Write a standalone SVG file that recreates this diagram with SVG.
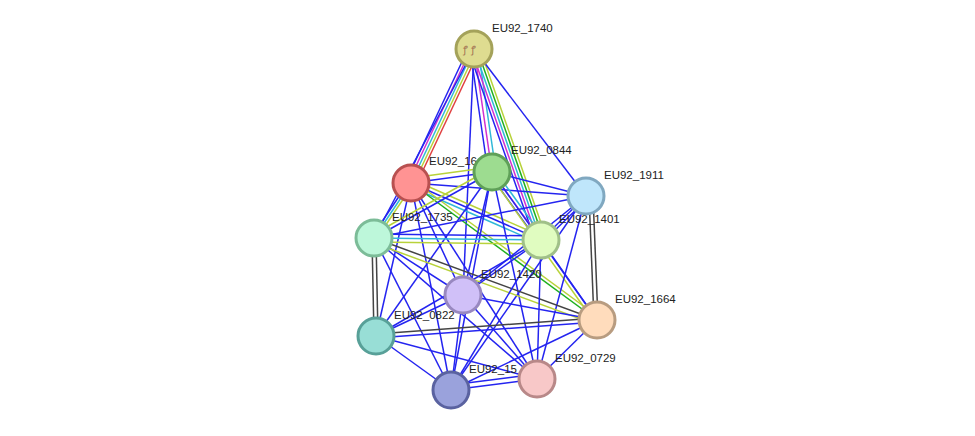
<svg xmlns="http://www.w3.org/2000/svg" width="975" height="436" viewBox="0 0 975 436">
<style>
.e line{stroke-width:1.5;fill:none}
.b{stroke:#2424f0}.y{stroke:#b8d23a}.c{stroke:#30b8d8}.m{stroke:#d030d0}.g{stroke:#20b020}.k{stroke:#444}.r{stroke:#e04040}
.n circle{stroke-width:3}
text{font-family:"Liberation Sans",Arial,sans-serif;font-size:11.5px;fill:#222}
</style>
<rect width="975" height="436" fill="#fff"/>
<g id="connectors" class="e">
<!-- 1740 multi -->
<g transform="translate(-6,0)"><line class="b" x1="474" y1="49" x2="411" y2="183"/></g>
<g transform="translate(-3,0)"><line class="m" x1="474" y1="49" x2="411" y2="183"/></g>
<line class="c" x1="474" y1="49" x2="411" y2="183"/>
<g transform="translate(3,0)"><line class="y" x1="474" y1="49" x2="411" y2="183"/></g>
<g transform="translate(6,0)"><line class="r" x1="474" y1="49" x2="411" y2="183"/></g>
<g transform="translate(-4,0)"><line class="b" x1="474" y1="49" x2="492" y2="172"/></g>
<line class="m" x1="474" y1="49" x2="492" y2="172"/>
<g transform="translate(4,0)"><line class="c" x1="474" y1="49" x2="492" y2="172"/></g>
<g transform="translate(-6,0)"><line class="b" x1="474" y1="49" x2="541" y2="240"/></g>
<g transform="translate(-3,0)"><line class="m" x1="474" y1="49" x2="541" y2="240"/></g>
<line class="c" x1="474" y1="49" x2="541" y2="240"/>
<g transform="translate(3,0)"><line class="g" x1="474" y1="49" x2="541" y2="240"/></g>
<g transform="translate(6,0)"><line class="y" x1="474" y1="49" x2="541" y2="240"/></g>
<line class="b" x1="474" y1="49" x2="374" y2="238"/>
<line class="b" x1="474" y1="49" x2="586" y2="196"/>
<line class="b" x1="474" y1="49" x2="463" y2="295"/>
<!-- 16 -->
<line class="b" x1="411" y1="183" x2="492" y2="172"/>
<g transform="translate(0,-5)"><line class="y" x1="411" y1="183" x2="492" y2="172"/></g>
<line class="b" x1="411" y1="183" x2="586" y2="196"/>
<g transform="translate(-3,0)"><line class="b" x1="411" y1="183" x2="374" y2="238"/></g>
<line class="c" x1="411" y1="183" x2="374" y2="238"/>
<g transform="translate(3,0)"><line class="y" x1="411" y1="183" x2="374" y2="238"/></g>
<g transform="translate(0,-4)"><line class="y" x1="411" y1="183" x2="541" y2="240"/></g>
<line class="b" x1="411" y1="183" x2="541" y2="240"/>
<g transform="translate(0,4)"><line class="c" x1="411" y1="183" x2="541" y2="240"/></g>
<line class="g" x1="411" y1="183" x2="597" y2="320"/>
<g transform="translate(0,-4)"><line class="y" x1="411" y1="183" x2="597" y2="320"/></g>
<line class="b" x1="411" y1="183" x2="463" y2="295"/>
<line class="b" x1="411" y1="183" x2="376" y2="336"/>
<line class="b" x1="411" y1="183" x2="537" y2="379"/>
<line class="b" x1="411" y1="183" x2="451" y2="390"/>
<!-- 0844 -->
<line class="b" x1="492" y1="172" x2="374" y2="238"/>
<g transform="translate(0,-4)"><line class="y" x1="492" y1="172" x2="374" y2="238"/></g>
<line class="b" x1="492" y1="172" x2="586" y2="196"/>
<g transform="translate(-4,0)"><line class="b" x1="492" y1="172" x2="541" y2="240"/></g>
<line class="m" x1="492" y1="172" x2="541" y2="240"/>
<g transform="translate(4,0)"><line class="c" x1="492" y1="172" x2="541" y2="240"/></g>
<line class="b" x1="492" y1="172" x2="463" y2="295"/>
<line class="b" x1="492" y1="172" x2="376" y2="336"/>
<line class="b" x1="492" y1="172" x2="597" y2="320"/>
<g transform="translate(-4,0)"><line class="y" x1="492" y1="172" x2="597" y2="320"/></g>
<line class="b" x1="492" y1="172" x2="537" y2="379"/>
<line class="b" x1="492" y1="172" x2="451" y2="390"/>
<!-- 1911 -->
<line class="b" x1="586" y1="196" x2="374" y2="238"/>
<line class="b" x1="586" y1="196" x2="541" y2="240"/>
<g transform="translate(4,0)"><line class="b" x1="586" y1="196" x2="541" y2="240"/></g>
<line class="b" x1="586" y1="196" x2="463" y2="295"/>
<line class="k" x1="589" y1="196" x2="594" y2="320"/>
<line class="k" x1="593" y1="196" x2="598" y2="320"/>
<line class="b" x1="586" y1="196" x2="537" y2="379"/>
<line class="b" x1="586" y1="196" x2="451" y2="390"/>
<!-- 1735 -->
<g transform="translate(0,-4)"><line class="b" x1="374" y1="238" x2="541" y2="240"/></g>
<line class="c" x1="374" y1="238" x2="541" y2="240"/>
<g transform="translate(0,4)"><line class="y" x1="374" y1="238" x2="541" y2="240"/></g>
<line class="b" x1="374" y1="238" x2="463" y2="295"/>
<line class="k" x1="372" y1="238" x2="374" y2="336"/>
<line class="k" x1="376" y1="238" x2="378" y2="336"/>
<line class="k" x1="374" y1="238" x2="597" y2="320"/>
<g transform="translate(0,5)"><line class="y" x1="374" y1="238" x2="597" y2="320"/></g>
<line class="b" x1="374" y1="238" x2="537" y2="379"/>
<line class="b" x1="374" y1="238" x2="451" y2="390"/>
<!-- 1401 -->
<line class="b" x1="541" y1="240" x2="463" y2="295"/>
<line class="b" x1="541" y1="240" x2="376" y2="336"/>
<line class="b" x1="541" y1="240" x2="597" y2="320"/>
<line class="b" x1="541" y1="240" x2="537" y2="379"/>
<line class="b" x1="541" y1="240" x2="451" y2="390"/>
<!-- 1420 -->
<line class="b" x1="463" y1="295" x2="376" y2="336"/>
<line class="b" x1="463" y1="295" x2="597" y2="320"/>
<line class="b" x1="463" y1="295" x2="537" y2="379"/>
<line class="b" x1="463" y1="295" x2="451" y2="390"/>
<!-- 0822 -->
<line class="k" x1="376" y1="334" x2="597" y2="318"/>
<g transform="translate(0,4)"><line class="b" x1="376" y1="334" x2="597" y2="318"/></g>
<line class="b" x1="376" y1="336" x2="537" y2="379"/>
<line class="b" x1="376" y1="336" x2="451" y2="390"/>
<!-- 1664 -->
<line class="b" x1="597" y1="320" x2="537" y2="379"/>
<line class="b" x1="597" y1="320" x2="451" y2="390"/>
<line class="b" x1="451" y1="390" x2="537" y2="379"/>
<g transform="translate(0,-5)"><line class="b" x1="451" y1="390" x2="537" y2="379"/></g>
</g>
<g id="labels">
<text x="492" y="32">EU92_1740</text>
<text x="429" y="165">EU92_16</text>
<text x="511" y="154">EU92_0844</text>
<text x="604" y="179">EU92_1911</text>
<text x="392" y="221">EU92_1735</text>
<text x="559" y="223">EU92_1401</text>
<text x="481" y="278">EU92_1420</text>
<text x="394" y="319">EU92_0822</text>
<text x="615" y="303">EU92_1664</text>
<text x="555" y="362">EU92_0729</text>
<text x="469" y="373">EU92_15</text>
</g>
<g id="n1740" class="n"><circle cx="474" cy="49" r="18" fill="#dedc90" stroke="#a4a25a"/><text x="463" y="53" style="font-size:10px;fill:#a07050">ꝭ ꝭ</text></g>
<g id="n16" class="n"><circle cx="411" cy="183" r="18" fill="#ff9393" stroke="#b85050"/></g>
<g id="n0844" class="n"><circle cx="492" cy="172" r="18" fill="#9ddc90" stroke="#5fa058"/></g>
<g id="n1911" class="n"><circle cx="586" cy="196" r="18" fill="#bfe6fb" stroke="#80a8c0"/></g>
<g id="n1735" class="n"><circle cx="374" cy="238" r="18" fill="#bdf7da" stroke="#7cbc98"/></g>
<g id="n1401" class="n"><circle cx="541" cy="240" r="18" fill="#e0fcc0" stroke="#a0c088"/></g>
<g id="n1420" class="n"><circle cx="463" cy="295" r="18" fill="#d0c0f8" stroke="#9888c0"/></g>
<g id="n0822" class="n"><circle cx="376" cy="336" r="18" fill="#98ded6" stroke="#58a098"/></g>
<g id="n1664" class="n"><circle cx="597" cy="320" r="18" fill="#ffdcbc" stroke="#b89c80"/></g>
<g id="n0729" class="n"><circle cx="537" cy="379" r="18" fill="#f8c8c8" stroke="#b88888"/></g>
<g id="n15" class="n"><circle cx="451" cy="390" r="18" fill="#9aa2dc" stroke="#5a62a0"/></g>
</svg>
